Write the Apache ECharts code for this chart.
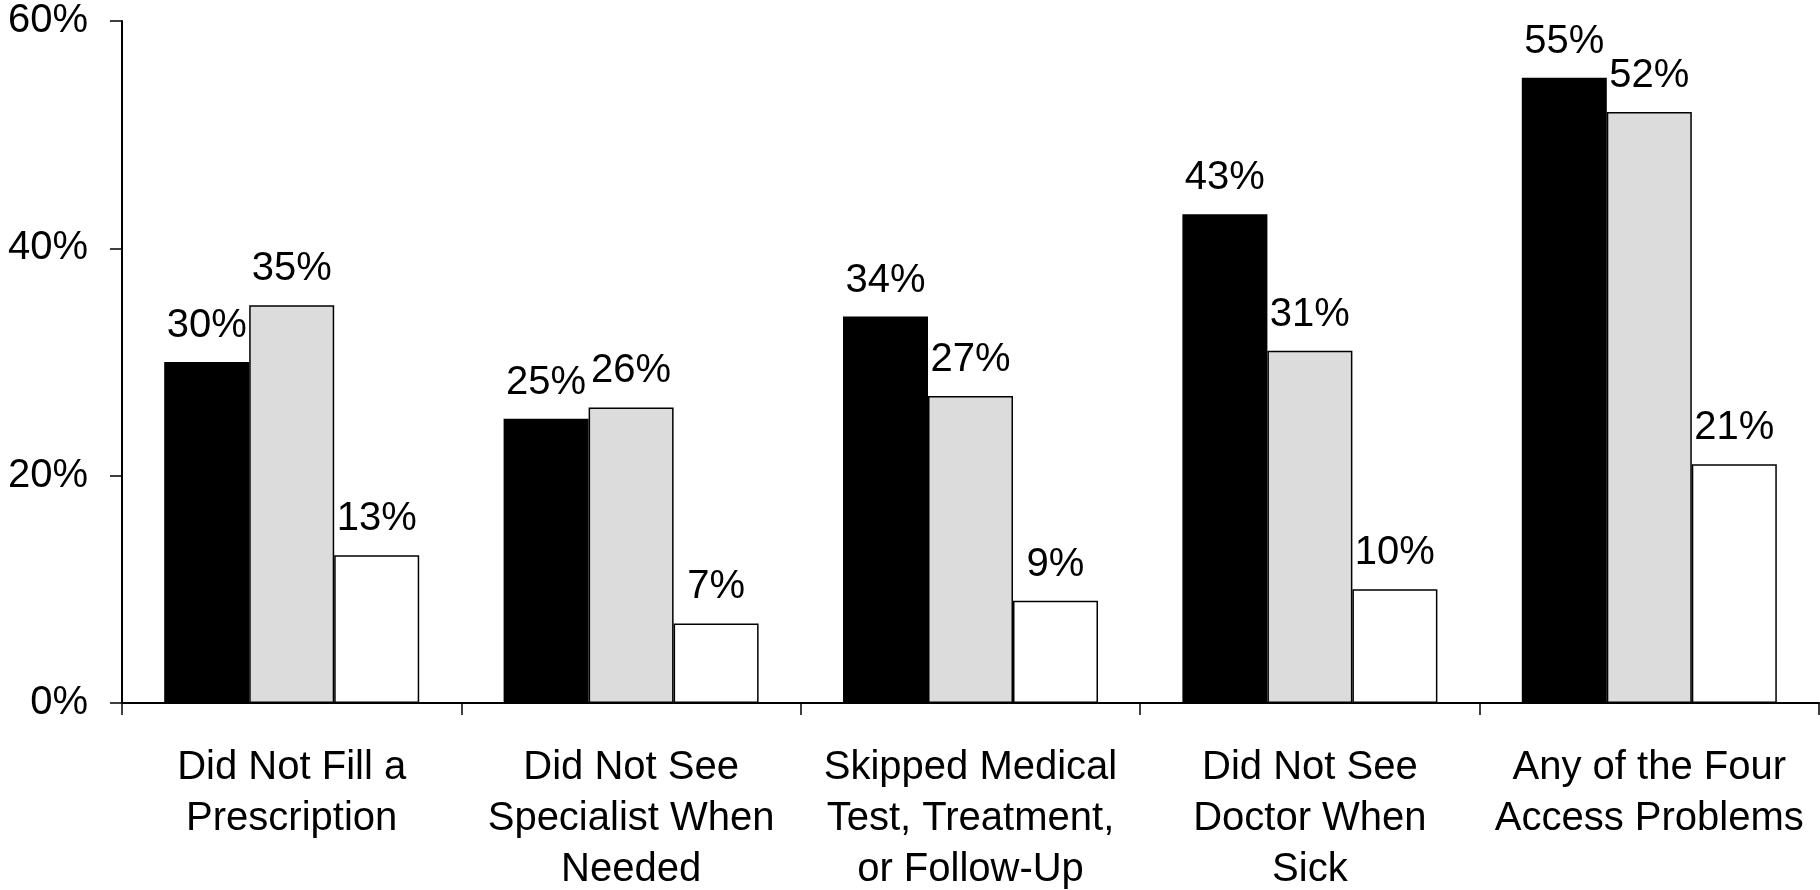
<!DOCTYPE html>
<html>
<head>
<meta charset="utf-8">
<script src="https://cdn.jsdelivr.net/npm/echarts@6/dist/echarts.min.js"></script>
<style>
html,body{margin:0;padding:0;background:#fff;}
#chart{width:1820px;height:890px;}
</style>
</head>
<body>
<div id="chart"></div>
<script>
const categories = [
  "Did Not Fill a\nPrescription",
  "Did Not See\nSpecialist When\nNeeded",
  "Skipped Medical\nTest, Treatment,\nor Follow-Up",
  "Did Not See\nDoctor When\nSick",
  "Any of the Four\nAccess Problems"
];
const seriesBlack = [30, 25, 34, 43, 55];
const seriesGray = [35, 26, 27, 31, 52];
const seriesWhite = [13, 7, 9, 10, 21];
const yTicks = [0, 20, 40, 60];

const FONT = "'Liberation Sans', Arial, sans-serif";
const chart = echarts.init(document.getElementById('chart'), null, {renderer: 'canvas'});

function mkSeries(name, data, color) {
  return {
    name: name,
    type: 'bar',
    data: data,
    barWidth: 85,
    barGap: '0%',
    itemStyle: {color: color, borderColor: '#000', borderWidth: 1.5},
    label: {
      show: true,
      position: 'top',
      distance: 16,
      formatter: '{c}%',
      color: '#000',
      fontFamily: FONT,
      fontSize: 40
    },
    emphasis: {disabled: true},
    animation: false
  };
}

chart.setOption({
  animation: false,
  backgroundColor: '#fff',
  grid: {left: 122, right: 1, top: 21, bottom: 187, containLabel: false, outerBoundsMode: 'none'},
  xAxis: {
    type: 'category',
    data: categories,
    boundaryGap: true,
    axisLine: {show: true, lineStyle: {color: '#000', width: 2}},
    axisTick: {show: true, length: 12, inside: false, lineStyle: {color: '#000', width: 1.5}},
    axisLabel: {
      interval: 0,
      margin: 39,
      color: '#000',
      fontFamily: FONT,
      fontSize: 40,
      lineHeight: 51
    },
    splitLine: {show: false}
  },
  yAxis: {
    type: 'value',
    min: yTicks[0],
    max: yTicks[yTicks.length - 1],
    interval: 20,
    axisLine: {show: true, lineStyle: {color: '#000', width: 2}},
    axisTick: {show: true, length: 12, lineStyle: {color: '#000', width: 1.5}},
    axisLabel: {
      formatter: '{value}%',
      margin: 34,
      color: '#000',
      fontFamily: FONT,
      fontSize: 40
    },
    splitLine: {show: false}
  },
  series: [
    mkSeries('Group A', seriesBlack, '#000000'),
    mkSeries('Group B', seriesGray, '#dcdcdc'),
    mkSeries('Group C', seriesWhite, '#ffffff')
  ]
});
</script>
</body>
</html>
